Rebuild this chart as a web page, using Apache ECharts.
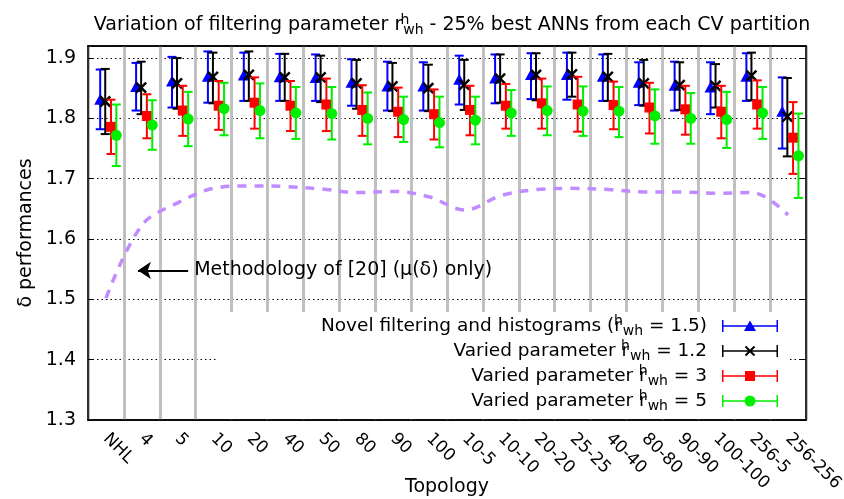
<!DOCTYPE html>
<html>
<head>
<meta charset="utf-8">
<script src="https://cdn.jsdelivr.net/npm/echarts@6.0.0/dist/echarts.min.js"></script>
<style>
html, body { margin: 0; padding: 0; background: #fff; }
#chart { width: 844px; height: 499px; }
</style>
</head>
<body>
<div id="chart"></div>
<script>
// topologies on the x axis
var categories = ['NHL', '4', '5', '10', '20', '40', '50', '80', '90', '100',
  '10-5', '10-10', '20-20', '25-25', '40-40', '80-80', '90-90', '100-100', '256-5', '256-256']

// novel filtering, r = 1.5 (blue)
var blueMean = [1.831, 1.852, 1.861, 1.869, 1.871, 1.868, 1.867, 1.859, 1.853, 1.853, 1.864, 1.866, 1.872, 1.872, 1.869, 1.859, 1.854, 1.851, 1.869, 1.811]
var blueLow = [1.782, 1.813, 1.818, 1.826, 1.829, 1.829, 1.829, 1.821, 1.813, 1.813, 1.823, 1.825, 1.832, 1.831, 1.829, 1.822, 1.813, 1.807, 1.829, 1.750]
var blueHigh = [1.881, 1.892, 1.902, 1.911, 1.909, 1.907, 1.906, 1.898, 1.894, 1.893, 1.904, 1.906, 1.908, 1.909, 1.906, 1.893, 1.894, 1.893, 1.908, 1.868]

// r = 1.2 (black)
var blackMean = [1.828, 1.851, 1.858, 1.869, 1.872, 1.868, 1.868, 1.858, 1.853, 1.850, 1.856, 1.866, 1.872, 1.873, 1.869, 1.858, 1.855, 1.854, 1.871, 1.803]
var blackLow = [1.774, 1.807, 1.816, 1.825, 1.829, 1.829, 1.827, 1.816, 1.812, 1.812, 1.814, 1.826, 1.830, 1.836, 1.829, 1.821, 1.814, 1.818, 1.830, 1.737]
var blackHigh = [1.882, 1.894, 1.900, 1.909, 1.911, 1.907, 1.904, 1.897, 1.892, 1.889, 1.897, 1.906, 1.908, 1.909, 1.907, 1.897, 1.893, 1.890, 1.909, 1.867]

// r = 3 (red)
var redMean = [1.786, 1.804, 1.813, 1.821, 1.826, 1.821, 1.823, 1.814, 1.811, 1.807, 1.814, 1.821, 1.825, 1.823, 1.822, 1.818, 1.815, 1.811, 1.823, 1.768]
var redLow = [1.741, 1.767, 1.771, 1.781, 1.783, 1.779, 1.779, 1.771, 1.769, 1.765, 1.772, 1.783, 1.783, 1.778, 1.782, 1.775, 1.773, 1.767, 1.783, 1.708]
var redHigh = [1.831, 1.840, 1.854, 1.862, 1.868, 1.862, 1.866, 1.855, 1.851, 1.848, 1.854, 1.857, 1.866, 1.869, 1.861, 1.859, 1.854, 1.854, 1.863, 1.827]

// r = 5 (green)
var greenMean = [1.772, 1.789, 1.799, 1.816, 1.813, 1.809, 1.808, 1.800, 1.798, 1.793, 1.797, 1.809, 1.813, 1.812, 1.812, 1.804, 1.800, 1.798, 1.809, 1.738]
var greenLow = [1.721, 1.748, 1.754, 1.772, 1.767, 1.766, 1.765, 1.757, 1.761, 1.752, 1.757, 1.771, 1.772, 1.771, 1.769, 1.758, 1.758, 1.751, 1.766, 1.668]
var greenHigh = [1.823, 1.830, 1.844, 1.859, 1.858, 1.852, 1.852, 1.843, 1.836, 1.836, 1.836, 1.847, 1.853, 1.853, 1.852, 1.848, 1.842, 1.844, 1.852, 1.808]

// methodology of [20], mean only (dashed)
var methodRef = [1.502, 1.623, 1.660, 1.684, 1.688, 1.687, 1.683, 1.677, 1.679, 1.670, 1.648, 1.672, 1.682, 1.684, 1.682, 1.678, 1.678, 1.676, 1.677, 1.640]

var yTicks = [1.3, 1.4, 1.5, 1.6, 1.7, 1.8, 1.9]

var FONT = 'DejaVu Sans, Liberation Sans, sans-serif'
var richSupSub = {
  sup: { fontSize: 14, lineHeight: 12, verticalAlign: 'top', width: 1, fontFamily: FONT, color: '#000' },
  sub: { fontSize: 14, lineHeight: 12, verticalAlign: 'bottom', fontFamily: FONT, color: '#000' }
}

var names = ['blue', 'black', 'red', 'green']
var legendLabels = {
  blue: 'Novel filtering and histograms (r{sup| h}{sub|wh} = 1.5)',
  black: 'Varied parameter r{sup| h}{sub|wh} = 1.2',
  red: 'Varied parameter r{sup| h}{sub|wh} = 3',
  green: 'Varied parameter r{sup| h}{sub|wh} = 5'
}

// legend samples: bar with caps and the marker in the middle
var barPath = 'M0,5.25H56V6.75H0Z M0,0H1.5V12H0Z M54.5,0H56V12H54.5Z'
var icons = {
  blue: 'path://' + barPath + ' M22,11L28,0.5L34,11Z',
  black: 'path://' + barPath + ' M22.8,2.2L24.2,0.8L33.2,9.8L31.8,11.2Z M31.8,0.8L33.2,2.2L24.2,11.2L22.8,9.8Z',
  red: 'path://' + barPath + ' M23,1H33V11H23Z',
  green: 'path://' + barPath + ' M22.5,6A5.5,5.5,0,1,1,33.5,6A5.5,5.5,0,1,1,22.5,6Z'
}

function marker (kind, c, color) {
  var cx = c[0]
  var cy = c[1]
  if (kind === 'tri') {
    return { type: 'polygon', shape: { points: [[cx - 6, cy + 5], [cx + 6, cy + 5], [cx, cy - 6]] }, style: { fill: color } }
  }
  if (kind === 'cross') {
    return {
      type: 'group',
      children: [
        { type: 'line', shape: { x1: cx - 5, y1: cy - 5, x2: cx + 5, y2: cy + 5 }, style: { stroke: color, lineWidth: 2.5 } },
        { type: 'line', shape: { x1: cx - 5, y1: cy + 5, x2: cx + 5, y2: cy - 5 }, style: { stroke: color, lineWidth: 2.5 } }
      ]
    }
  }
  if (kind === 'square') {
    return { type: 'rect', shape: { x: cx - 5, y: cy - 5, width: 10, height: 10 }, style: { fill: color } }
  }
  return { type: 'circle', shape: { cx: cx, cy: cy, r: 5.5 }, style: { fill: color } }
}

function errSeries (name, color, off, low, high, mean, kind) {
  return {
    name: name,
    type: 'custom',
    xAxisIndex: 1,
    yAxisIndex: 0,
    itemStyle: { color: color },
    encode: { x: 0, y: [1, 2, 3] },
    data: categories.map(function (c, i) { return [i + off, low[i], high[i], mean[i]] }),
    renderItem: function (params, api) {
      var x = api.value(0)
      var pl = api.coord([x, api.value(1)])
      var ph = api.coord([x, api.value(2)])
      var pm = api.coord([x, api.value(3)])
      var cap = 4.5
      var st = { stroke: color, lineWidth: 2 }
      return {
        type: 'group',
        children: [
          { type: 'line', shape: { x1: pl[0], y1: pl[1], x2: ph[0], y2: ph[1] }, style: st },
          { type: 'line', shape: { x1: pl[0] - cap, y1: pl[1], x2: pl[0] + cap, y2: pl[1] }, style: st },
          { type: 'line', shape: { x1: ph[0] - cap, y1: ph[1], x2: ph[0] + cap, y2: ph[1] }, style: st },
          marker(kind, pm, color)
        ]
      }
    }
  }
}

var chart = echarts.init(document.getElementById('chart'))
chart.setOption({
  animation: false,
  backgroundColor: '#fff',
  title: {
    text: 'Variation of filtering parameter r{sup| h}{sub|wh} - 25% best ANNs from each CV partition',
    left: 447,
    top: 8,
    textAlign: 'center',
    textStyle: { fontFamily: FONT, fontSize: 19, fontWeight: 'normal', color: '#000', lineHeight: 24, rich: richSupSub }
  },
  grid: { left: 88, right: 38, top: 46, bottom: 79, outerBoundsMode: 'none', show: true, borderColor: '#000', borderWidth: 1.5 },
  legend: {
    orient: 'vertical',
    right: 54,
    top: 312,
    align: 'right',
    itemWidth: 56,
    itemHeight: 12,
    itemGap: 1,
    padding: [2, 12, 6, 105],
    backgroundColor: '#fff',
    selectedMode: false,
    itemStyle: { borderWidth: 0 },
    textStyle: { fontFamily: FONT, fontSize: 18.5, color: '#000', lineHeight: 24, padding: [0, 10, 0, 0], rich: richSupSub },
    formatter: function (n) { return legendLabels[n] },
    data: names.map(function (n) { return { name: n, icon: icons[n] } })
  },
  xAxis: [{
    type: 'category',
    data: categories,
    position: 'bottom',
    boundaryGap: true,
    axisLine: { onZero: false, lineStyle: { color: '#000', width: 1.5 } },
    axisTick: { inside: true, length: 6, interval: 0, lineStyle: { color: '#000' } },
    axisLabel: { interval: 0, rotate: -45, fontFamily: FONT, fontSize: 17, color: '#000', margin: 16 },
    splitLine: { show: true, interval: 0, lineStyle: { color: '#c0c0c0', width: 3 } },
    name: 'Topology',
    nameLocation: 'middle',
    nameGap: 58,
    nameMoveOverlap: false,
    nameTextStyle: { fontFamily: FONT, fontSize: 19, color: '#000' }
  }, {
    type: 'value',
    min: -0.5,
    max: 19.5,
    show: false
  }, {
    type: 'category',
    data: categories,
    position: 'top',
    boundaryGap: true,
    axisLine: { onZero: false, lineStyle: { color: '#000', width: 1.5 } },
    axisTick: { inside: true, length: 6, interval: 0, lineStyle: { color: '#000' } },
    axisLabel: { show: false },
    splitLine: { show: false }
  }],
  yAxis: [{
    type: 'value',
    min: yTicks[0],
    max: 1.92,
    interval: 0.1,
    axisLine: { show: true, onZero: false, lineStyle: { color: '#000', width: 1.5 } },
    axisTick: { show: true, inside: true, length: 6, lineStyle: { color: '#000' } },
    axisLabel: {
      fontFamily: FONT, fontSize: 19, color: '#000', margin: 12, showMaxLabel: false,
      formatter: function (v) { return yTicks.indexOf(Math.round(v * 10) / 10) >= 0 ? v.toFixed(1) : '' }
    },
    splitLine: { show: true, lineStyle: { color: '#000', width: 1, type: [1.5, 3] } },
    name: 'δ performances',
    nameLocation: 'middle',
    nameGap: 52,
    nameMoveOverlap: false,
    nameTextStyle: { fontFamily: FONT, fontSize: 19, color: '#000' }
  }, {
    type: 'value',
    position: 'right',
    min: yTicks[0],
    max: 1.92,
    interval: 0.1,
    axisLine: { show: true, onZero: false, lineStyle: { color: '#000', width: 1.5 } },
    axisTick: { show: true, inside: true, length: 6, lineStyle: { color: '#000' } },
    axisLabel: { show: false },
    splitLine: { show: false }
  }],
  series: [
    {
      name: 'ref20',
      type: 'line',
      xAxisIndex: 1,
      yAxisIndex: 0,
      data: methodRef.map(function (v, i) { return [i, v] }),
      symbol: 'none',
      smooth: 0.35,
      silent: true,
      lineStyle: { color: '#c08cff', width: 3.5, type: [9, 8] },
      markLine: {
        silent: true,
        symbol: ['none', 'arrow'],
        symbolSize: 13,
        lineStyle: { color: '#000', width: 2, type: 'solid' },
        label: {
          show: true,
          position: 'start',
          distance: 6,
          formatter: 'Methodology of [20] (μ(δ) only)',
          fontFamily: FONT,
          fontSize: 19,
          color: '#000'
        },
        data: [[{ coord: [2.29, 1.548] }, { coord: [0.89, 1.548] }]]
      }
    },
    errSeries('blue', '#0000ff', -0.16, blueLow, blueHigh, blueMean, 'tri'),
    errSeries('black', '#000000', -0.02, blackLow, blackHigh, blackMean, 'cross'),
    errSeries('red', '#ff0000', 0.14, redLow, redHigh, redMean, 'square'),
    errSeries('green', '#00ee00', 0.29, greenLow, greenHigh, greenMean, 'circle')
  ]
})
</script>
</body>
</html>
